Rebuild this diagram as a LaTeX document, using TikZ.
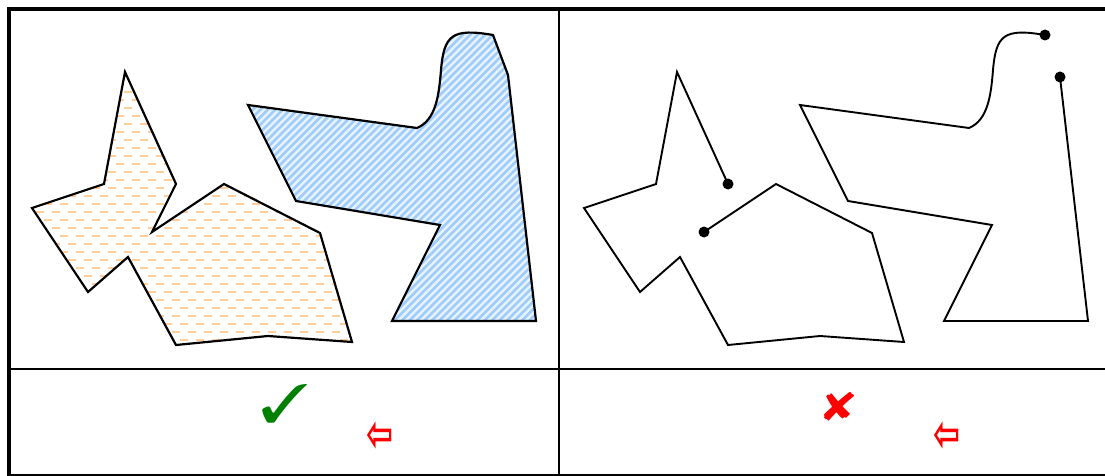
\documentclass[tikz,border=0pt]{standalone}
\usepackage{fontspec}
\usepackage{pifont}
\newfontfamily\djv{DejaVu Sans}
\newfontfamily\djvb{DejaVu Sans Bold}
\definecolor{okgreen}{RGB}{0,128,0}
\definecolor{hatchorange}{RGB}{255,206,156}
\definecolor{hatchblue}{RGB}{160,205,250}
\definecolor{baseblue}{RGB}{232,243,254}
\tikzset{
  frame/.style={line width=1.8pt},
  outer/.style={line width=3.5pt},
  shapeline/.style={line width=2.2pt, line join=miter},
  openline/.style={line width=1.9pt},
  enddot/.style={fill=black, draw=none},
  symb/.style={inner sep=0pt, outer sep=0pt},
}
\def\leftshape{(125,72) -- (176,184) -- (152,232) -- (224,184) -- (320,233) -- (352,342) -- (268,336) -- (176,345) -- (128,257) -- (88,292) -- (32,208) -- (104,184) -- cycle}
\def\rightshape{(248,105) -- (417,128) .. controls (436,120) and (439,95) .. (441,70) .. controls (444,35) and (452,28) .. (493,35) -- (508,75) -- (536,321) -- (392,321) -- (440,225) -- (296,201) -- cycle}
\begin{document}
\begin{tikzpicture}[x=1pt,y=-1pt]
\useasboundingbox (0,0) rectangle (1105,476);
\fill[white] (0,0) rectangle (1105,476);
% orange dashed fill
\begin{scope}
  \clip \leftshape;
  \foreach \i in {0,...,37}{
    \pgfmathsetmacro{\yy}{68+8*\i}
    \pgfmathsetmacro{\ph}{mod(\i,2)*8}
    \draw[hatchorange, line width=2pt, dash pattern=on 8pt off 8pt, dash phase=\ph pt] (20,\yy) -- (370,\yy);
  }
\end{scope}
% blue hatch fill
\begin{scope}
  \clip \rightshape;
  \fill[baseblue] (240,20) rectangle (545,330);
  \foreach \k in {-260,-252.5,...,310}{
    \draw[hatchblue, line width=2.6pt] (\k+240,330) -- (\k+550,20);
  }
\end{scope}
\draw[shapeline] \leftshape;
\draw[shapeline] \rightshape;
% right panel open shapes
\coordinate (s1) at (728,184);
\coordinate (e1) at (704,232);
\coordinate (s2) at (1045,35);
\coordinate (e2) at (1060,77);
\draw[openline] (s1) -- (677,72) -- (656,184) -- (584,208) -- (640,292) -- (680,257) -- (728,345) -- (820,336) -- (904,342) -- (872,233) -- (776,184) -- (e1);
\draw[openline] (s2) .. controls (1004,28) and (996,35) .. (993,70) .. controls (991,95) and (988,120) .. (969,128) -- (800,105) -- (848,201) -- (992,225) -- (944,321) -- (1088,321) -- (e2);
\foreach \p in {s1,e1,s2,e2} \fill[enddot] (\p) circle (5.5);
% frame
\draw[frame] (559,9) -- (559,476);
\draw[frame] (9,369) -- (1105,369);
\draw[line width=1.5pt] (9,475) -- (1105,475);
\draw[outer] (9,7.25) -- (9,476);
\draw[outer] (7.25,9) -- (1105,9);
% symbols
\node[symb, text=okgreen, font=\fontsize{54}{54}\selectfont, xscale=1.2] (chk) at (285,404) {\ding{51}};
\node[symb, text=red, font=\fontsize{40}{40}\selectfont, xscale=1.25] (crs) at (839,407) {\ding{56}};
\node[symb, text=red, font=\djvb\fontsize{34}{34}\selectfont, xscale=0.95, yscale=1.5] (arL) at (380,437) {⇦};
\node[symb, text=red, font=\djvb\fontsize{34}{34}\selectfont, xscale=0.95, yscale=1.5] (arR) at (947,437) {⇦};
\end{tikzpicture}
\end{document}
